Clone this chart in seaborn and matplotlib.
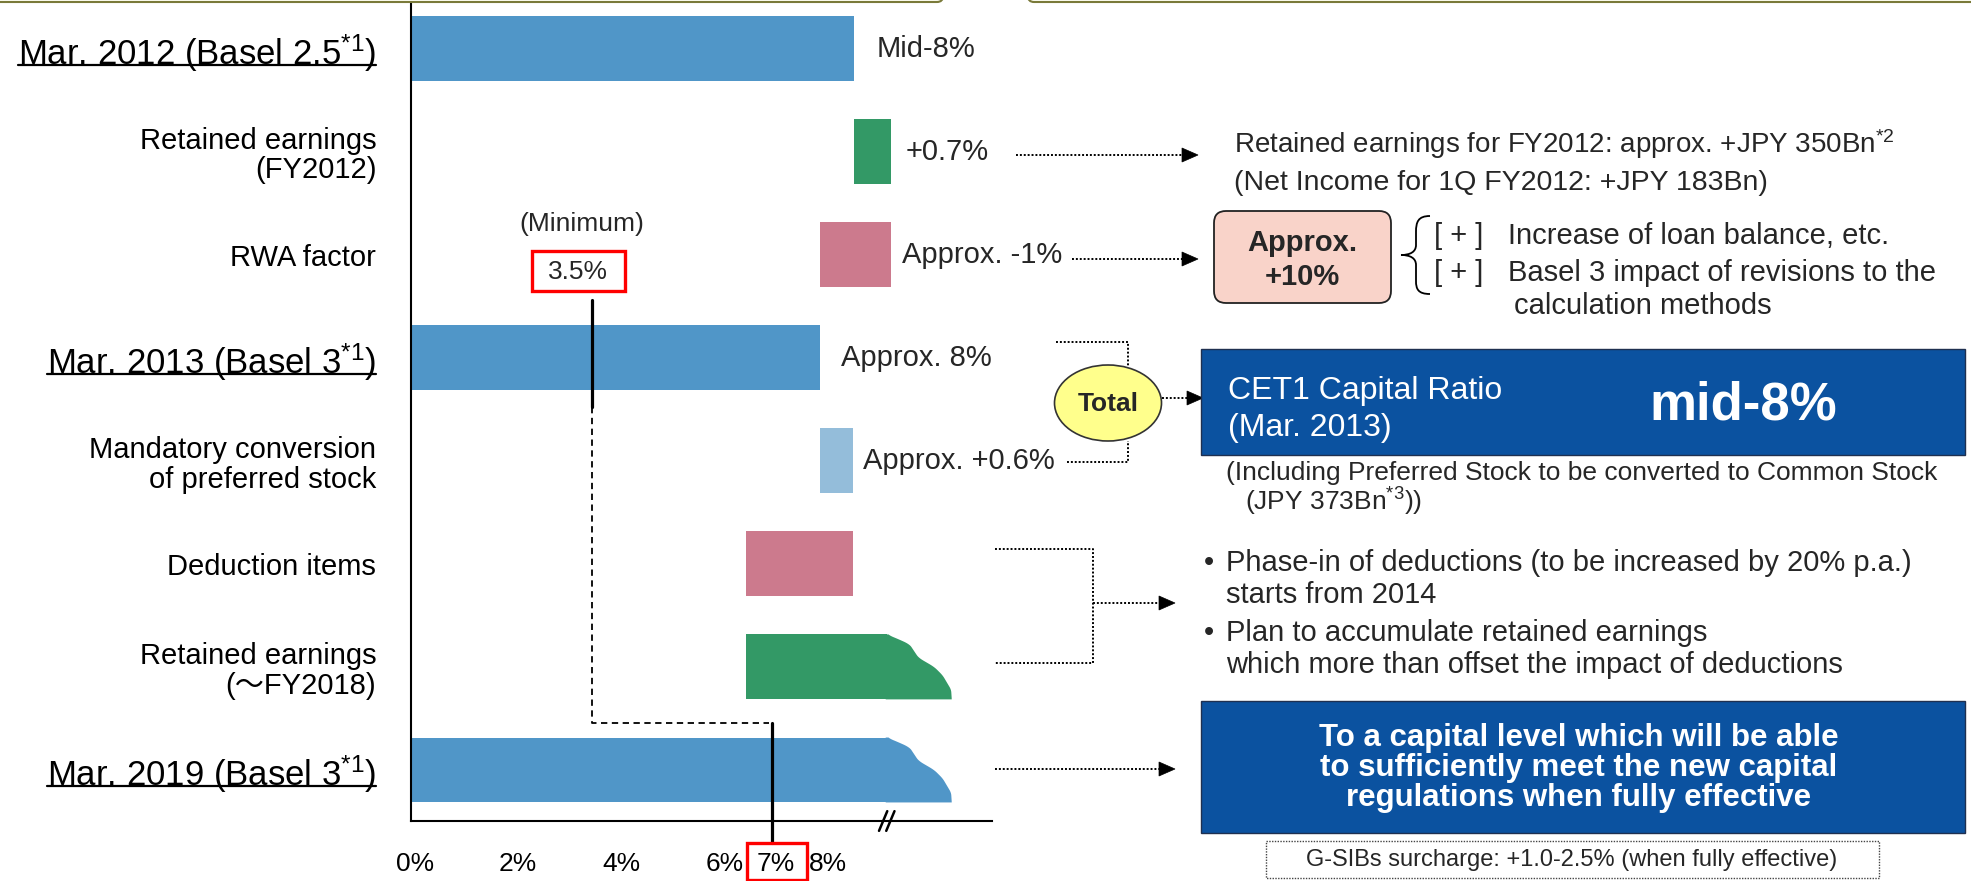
import numpy as np
import pandas as pd
import matplotlib
matplotlib.use("Agg")
import matplotlib.pyplot as plt
import seaborn as sns
from matplotlib.patches import Rectangle, FancyBboxPatch, Ellipse, Polygon, PathPatch
from matplotlib.path import Path
from matplotlib.lines import Line2D
from matplotlib.transforms import ScaledTranslation

# chart data (capital ratio walk, % of RWA)
categories = ["Mar. 2012 (Basel 2.5$^{*1}$)", "Retained earnings\n(FY2012)", "RWA factor",
              "Mar. 2013 (Basel 3$^{*1}$)", "Mandatory conversion\nof preferred stock",
              "Deduction items", "Retained earnings\n(\uff5eFY2018)", "Mar. 2019 (Basel 3$^{*1}$)"]
bar_start = [0, 8.58, 7.92, 0, 7.92, 6.49, 6.49, 0]
bar_end = [8.58, 9.30, 9.30, 7.92, 8.56, 8.56, 10.48, 10.48]
bar_kind = ["level", "plus", "minus", "level", "conv", "minus", "plus", "level"]
wavy_end = [False, False, False, False, False, False, True, True]
value_labels = ["Mid-8%", "+0.7%", "Approx. -1%", "Approx. 8%", "Approx. +0.6%", "", "", ""]
tick_values = [0, 2, 4, 6, 7, 8, 10]
tick_labels = ["0%", "2%", "4%", "6%", "7%", "8%", ""]
minimum_ratio = 3.5
target_ratio = 7.0
flat_end = 9.22
axis_break = 9.22

colors = {"level": "#5096C8", "plus": "#339966", "minus": "#CC7A8D", "conv": "#94BDDA"}
label_gap = [23, 15, 11, 21, 10, 0, 0, 0]   # px between bar end and its label
big_rows = [0, 3, 7]
FS = 21

sns.set_style("white")
plt.rcParams["font.family"] = ["Liberation Sans", "Noto Sans CJK JP", "DejaVu Sans"]
plt.rcParams["mathtext.fontset"] = "custom"
plt.rcParams["mathtext.rm"] = "Liberation Sans"
plt.rcParams["mathtext.default"] = "regular"

W, H = 1971, 881
fig = plt.figure(figsize=(W / 100, H / 100), dpi=100)
ax = fig.add_axes([411 / W, 60 / H, 581 / W, 821 / H])

df = pd.DataFrame({"item": categories, "start": bar_start, "end": bar_end,
                   "kind": bar_kind, "wavy": wavy_end})
df["drawn_end"] = np.where(df["wavy"], flat_end, df["end"])
df["length"] = df["drawn_end"] - df["start"]

bar_h = 0.63
sns.barplot(data=df, x="length", y="item", orient="h", left=df["start"].to_numpy(),
            width=bar_h, errorbar=None, saturation=1, linewidth=0, color=colors["level"], ax=ax)
for patch, kind in zip(ax.patches, df["kind"]):
    patch.set_facecolor(colors[kind])

# wavy right end of the projected bars
wave_t = np.array([0, 0.06, 0.15, 0.36, 0.5, 0.63, 0.85, 1.0])
wave_f = np.array([0, 0.15, 0.35, 0.49, 0.73, 0.86, 0.99, 1.0])
tt = np.linspace(0, 1, 80)
ff = np.convolve(np.pad(np.interp(tt, wave_t, wave_f), 3, mode="edge"), np.ones(7) / 7, mode="valid")
for i, r in df.iterrows():
    if r["wavy"]:
        top = i - bar_h / 2
        xs = flat_end + ff * (r["end"] - flat_end)
        ys = top + tt * bar_h
        pts = [(flat_end - 0.02, top)] + list(zip(xs, ys)) + [(flat_end - 0.02, top + bar_h)]
        ax.add_patch(Polygon(pts, closed=True, facecolor=colors[r["kind"]], linewidth=0))

for i, (lab, gap) in enumerate(zip(value_labels, label_gap)):
    if lab:
        ax.annotate(lab, xy=(bar_end[i], i), xytext=(gap * 0.72, 0), textcoords="offset points",
                    ha="left", va="center", fontsize=FS)

ax.set_xlim(0, 581 / 51.6)
ax.set_ylim(7.495, -0.4706)
ax.set_xlabel("")
ax.set_ylabel("")
ax.set_xticks(tick_values, tick_labels)
ax.tick_params(axis="x", direction="in", length=5, width=1.2, pad=22, labelsize=19, colors="black")
ax.tick_params(axis="y", length=0, pad=25, colors="black")
shift = ScaledTranslation(4 / 100, 0, fig.dpi_scale_trans)
for lab in ax.get_xticklabels():
    lab.set_transform(lab.get_transform() + shift)
for i, lab in enumerate(ax.get_yticklabels()):
    lab.set_fontsize(25 if i in big_rows else FS)
    lab.set_linespacing(1.08)
for s in ["top", "right"]:
    ax.spines[s].set_visible(False)
ax.spines["left"].set_linewidth(1.5)
ax.spines["bottom"].set_linewidth(1.5)
ax.spines["left"].set_color("black")
ax.spines["bottom"].set_color("black")

# axis break mark
for dx in (-0.07, 0.07):
    ax.plot([axis_break + dx - 0.08, axis_break + dx + 0.08], [-0.012, 0.012],
            transform=ax.get_xaxis_transform(), color="black", lw=1.8, clip_on=False, zorder=6)

# minimum ratio and target ratio lines
ax.plot([minimum_ratio, minimum_ratio], [2.44, 3.48], color="black", lw=2.3, clip_on=False, zorder=4)
ax.plot([minimum_ratio, minimum_ratio, target_ratio - 0.07], [3.48, 6.54, 6.54], color="black",
        lw=1.3, ls=(0, (3.5, 2.5)), clip_on=False, zorder=4)
ax.plot([target_ratio, target_ratio], [6.54, 7.71], color="black", lw=2.3, clip_on=False, zorder=4)

# overlay in pixel coordinates for the annotations
ov = fig.add_axes([0, 0, 1, 1], zorder=5)
ov.set_xlim(0, W)
ov.set_ylim(H, 0)
ov.axis("off")
ov.patch.set_alpha(0)

for x0, x1 in [(-20, 943), (1028, 2000)]:
    ov.add_patch(FancyBboxPatch((x0, -40), x1 - x0, 42, boxstyle="round,pad=0,rounding_size=6",
                                facecolor="#FFFFF2", edgecolor="#7A7A3A", lw=1.5))

ov.text(582, 224, "(Minimum)", ha="center", va="center", fontsize=19)
ov.add_patch(Rectangle((532, 251), 93, 40, fill=False, edgecolor="#FF0000", lw=2.4))
ov.text(578, 272, f"{minimum_ratio:.1f}%", ha="center", va="center", fontsize=19)
ov.add_patch(Rectangle((747, 843), 60, 37, fill=False, edgecolor="#FF0000", lw=2.4, zorder=6))


def dotted(xs, ys):
    ov.plot(xs, ys, color="black", lw=1.4, ls=(0, (1, 1)))


def head(x, y):
    ov.add_patch(Polygon([(x - 16, y - 7), (x, y), (x - 16, y + 7)], closed=True,
                         facecolor="black", edgecolor="black", lw=0.5))


dotted([1016, 1184], [155, 155]); head(1198, 155)
dotted([1072, 1184], [259, 259]); head(1198, 259)
dotted([1056, 1128, 1128], [342, 342, 366])
dotted([1067, 1128, 1128], [462, 462, 441])
dotted([1162, 1190], [398, 398]); head(1203, 398)
dotted([995, 1093, 1093, 995], [549, 549, 663, 663])
dotted([1093, 1161], [603, 603]); head(1175, 603)
dotted([995, 1161], [769, 769]); head(1175, 769)

ov.add_patch(Ellipse((1108, 403), 107, 76, facecolor="#FFFF8C", edgecolor="#333333", lw=1.2))
ov.text(1108, 404, "Total", ha="center", va="center", fontsize=19, fontweight="bold")

ov.text(1234, 144, "Retained earnings for FY2012: approx. +JPY 350Bn$^{*2}$", ha="left", va="center", fontsize=20)
ov.text(1234, 183, "(Net Income for 1Q FY2012: +JPY 183Bn)", ha="left", va="center", fontsize=20.5)

ov.add_patch(FancyBboxPatch((1214, 211), 177, 92, boxstyle="round,pad=0,rounding_size=12",
                            facecolor="#F9D3C9", edgecolor="#222222", lw=1.3))
ov.text(1302, 260, "Approx.\n+10%", ha="center", va="center", fontsize=21, fontweight="bold",
        linespacing=1.25)

brace = Path([(1430, 216), (1418, 216), (1416, 222), (1416, 232), (1416, 245),
              (1416, 252), (1410, 255), (1401, 255),
              (1410, 255), (1416, 258), (1416, 265), (1416, 281),
              (1416, 289), (1418, 294), (1430, 294)],
             [Path.MOVETO, Path.CURVE4, Path.CURVE4, Path.CURVE4, Path.LINETO,
              Path.CURVE4, Path.CURVE4, Path.CURVE4,
              Path.CURVE4, Path.CURVE4, Path.CURVE4, Path.LINETO,
              Path.CURVE4, Path.CURVE4, Path.CURVE4])
ov.add_patch(PathPatch(brace, fill=False, edgecolor="black", lw=1.3))
ov.text(1434, 236, "[ + ]", ha="left", va="center", fontsize=FS)
ov.text(1434, 273, "[ + ]", ha="left", va="center", fontsize=FS)
ov.text(1508, 236, "Increase of loan balance, etc.", ha="left", va="center", fontsize=FS)
ov.text(1508, 273, "Basel 3 impact of revisions to the", ha="left", va="center", fontsize=FS)
ov.text(1514, 306, "calculation methods", ha="left", va="center", fontsize=FS)

ov.add_patch(Rectangle((1201, 349), 764, 106, facecolor="#0B52A0", edgecolor="#1F3050", lw=1))
ov.text(1228, 391, "CET1 Capital Ratio", ha="left", va="center", fontsize=23, color="white")
ov.text(1228, 428, "(Mar. 2013)", ha="left", va="center", fontsize=23, color="white")
ov.text(1743, 406, "mid-8%", ha="center", va="center", fontsize=38, fontweight="bold", color="white")

ov.text(1226, 473, "(Including Preferred Stock to be converted to Common Stock", ha="left", va="center", fontsize=19)
ov.text(1245, 502, "(JPY 373Bn$^{*3}$))", ha="left", va="center", fontsize=19)

ov.text(1204, 563, "\u2022", ha="left", va="center", fontsize=FS)
ov.text(1226, 563, "Phase-in of deductions (to be increased by 20% p.a.)", ha="left", va="center", fontsize=FS)
ov.text(1226, 595, "starts from 2014", ha="left", va="center", fontsize=FS)
ov.text(1204, 633, "\u2022", ha="left", va="center", fontsize=FS)
ov.text(1226, 633, "Plan to accumulate retained earnings", ha="left", va="center", fontsize=FS)
ov.text(1226, 665, "which more than offset the impact of deductions", ha="left", va="center", fontsize=FS)

ov.add_patch(Rectangle((1201, 701), 764, 132, facecolor="#0B52A0", edgecolor="#1F3050", lw=1))
ov.text(1579, 768, "To a capital level which will be able\nto sufficiently meet the new capital\n"
        "regulations when fully effective", ha="center", va="center", fontsize=22.5,
        fontweight="bold", color="white", linespacing=1.02)

ov.add_patch(Rectangle((1266, 841), 613, 37, fill=False, edgecolor="#444444", lw=1, ls=(0, (1, 1))))
ov.text(1572, 860, "G-SIBs surcharge: +1.0-2.5% (when fully effective)", ha="center", va="center", fontsize=17)

# underline the period labels
fig.canvas.draw()
renderer = fig.canvas.get_renderer()
for i, lab in enumerate(ax.get_yticklabels()):
    if i in big_rows:
        bb = lab.get_window_extent(renderer)
        y = H - ax.transData.transform((0, i))[1] + 16
        ov.add_line(Line2D([bb.x0, bb.x1], [y, y], color="black", lw=1.6))

fig.savefig("out.png", dpi=100)
